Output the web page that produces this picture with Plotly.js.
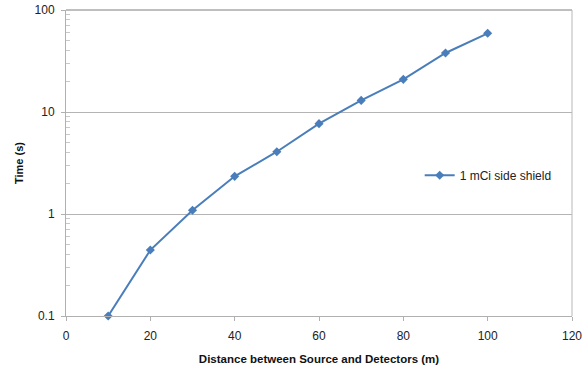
<!DOCTYPE html>
<html>
<head>
<meta charset="utf-8">
<script src="https://cdn.plot.ly/plotly-3.0.1.min.js"></script>
<style>html,body{margin:0;padding:0;background:#fff;}#chart{width:587px;height:366px;}</style>
</head>
<body>
<div id="chart"></div>
<script>
var distances = [10, 20, 30, 40, 50, 60, 70, 80, 90, 100];
var times = [0.1, 0.443, 1.09, 2.34, 4.08, 7.69, 13.0, 20.9, 37.9, 59.1];
var seriesName = '1 mCi side shield';
var xTickVals = [0, 20, 40, 60, 80, 100, 120];
var yTickVals = [0.1, 1, 10, 100];
var yTickText = ['0.1', '1', '10', '100'];

var trace = {
  x: distances,
  y: times,
  type: 'scatter',
  mode: 'lines+markers',
  name: seriesName,
  cliponaxis: false,
  line: {color: '#4a7ebb', width: 2},
  marker: {symbol: 'diamond', size: 7, color: '#4a7ebb'}
};

var font = {family: 'Liberation Sans, Arial, sans-serif', size: 12, color: '#222'};

var layout = {
  width: 587,
  height: 366,
  margin: {l: 66, r: 15, t: 10, b: 50},
  paper_bgcolor: '#fff',
  plot_bgcolor: '#fff',
  font: font,
  showlegend: true,
  legend: {
    x: 0.699, y: 0.46, xanchor: 'left', yanchor: 'middle',
    itemwidth: 30,
    font: {family: 'Liberation Sans, Arial, sans-serif', size: 12, color: '#222'},
    bgcolor: 'rgba(0,0,0,0)'
  },
  xaxis: {
    range: [0, 120],
    tickvals: xTickVals,
    ticks: 'outside', ticklen: 4, tickcolor: '#b0b0b0',
    ticklabelstandoff: 5,
    showgrid: false, zeroline: false,
    showline: true, linecolor: '#b0b0b0', linewidth: 1,
    tickfont: font,
    title: {text: 'Distance between Source and Detectors (m)', standoff: 12,
      font: {family: 'Liberation Sans, Arial, sans-serif', size: 11.5, color: '#111', weight: 'bold'}}
  },
  yaxis: {
    type: 'log',
    range: [-1, 2],
    tickvals: yTickVals,
    ticktext: yTickText,
    ticks: 'outside', ticklen: 4, tickcolor: '#b0b0b0',
    ticklabelstandoff: 4,
    showgrid: true, gridcolor: '#b4b4b4', gridwidth: 1,
    zeroline: false,
    showline: true, linecolor: '#b0b0b0', linewidth: 1,
    minor: {ticks: 'inside', ticklen: 4, tickcolor: '#c8c8c8', showgrid: false,
      tickvals: [0.2,0.3,0.4,0.5,0.6,0.7,0.8,0.9,2,3,4,5,6,7,8,9,20,30,40,50,60,70,80,90]},
    tickfont: font,
    title: {text: 'Time (s)', standoff: 8,
      font: {family: 'Liberation Sans, Arial, sans-serif', size: 11, color: '#111', weight: 'bold'}}
  },
  shapes: [
    {type: 'line', xref: 'paper', yref: 'paper', x0: 0, x1: 1, y0: 1, y1: 1,
     line: {color: '#7f7f7f', width: 1}},
    {type: 'line', xref: 'paper', yref: 'paper', x0: 1, x1: 1, y0: 0, y1: 1,
     line: {color: '#b8b8b8', width: 1}}
  ]
};

Plotly.newPlot('chart', [trace], layout, {staticPlot: true, displayModeBar: false});
</script>
</body>
</html>
